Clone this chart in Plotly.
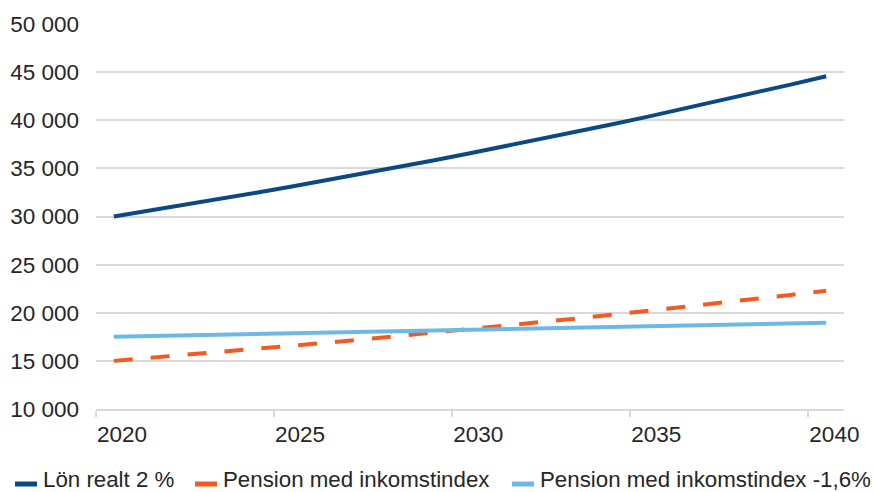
import plotly.graph_objects as go

years = list(range(2020, 2041))

lon_realt = [30000, 30600, 31212, 31836, 32473, 33122, 33785, 34461, 35150, 35853,
             36570, 37301, 38047, 38808, 39584, 40376, 41184, 42007, 42847, 43704, 44578]
pension_ink = [15000, 15300, 15606, 15918, 16236, 16561, 16892, 17230, 17575, 17926,
               18285, 18651, 19024, 19404, 19792, 20188, 20592, 21004, 21424, 21852, 22289]
pension_ink_m16 = [17500, 17570, 17640, 17711, 17782, 17853, 17924, 17996, 18068, 18140,
                   18213, 18286, 18359, 18432, 18506, 18580, 18654, 18729, 18804, 18879, 18954]

series_names = ["Lön realt 2 %", "Pension med inkomstindex", "Pension med inkomstindex -1,6%"]
series_colors = ["#0A4A80", "#F25A21", "#6DB9E6"]

x_tick_vals = [2019.5, 2024.5, 2029.5, 2034.5, 2039.5]
x_tick_text = ["2020", "2025", "2030", "2035", "2040"]
y_tick_vals = [10000, 15000, 20000, 25000, 30000, 35000, 40000, 45000, 50000]
y_tick_text = ["10 000", "15 000", "20 000", "25 000", "30 000", "35 000", "40 000", "45 000", "50 000"]

FONT = "Liberation Sans, Arial, sans-serif"
TEXT = "#262626"
GRID = "#D9D9D9"
FS = 22.5
LEG_FS = 22.3

W, H = 875, 492
ML, MR, MT, MB = 96, 31, 24, 83
PW, PH = W - ML - MR, H - MT - MB


def px_x(px):
    return (px - ML) / PW


def px_y(py):
    return (H - MB - py) / PH


fig = go.Figure()
fig.add_trace(go.Scatter(x=years, y=lon_realt, name=series_names[0], mode="lines",
                         line=dict(color=series_colors[0], width=4)))
fig.add_trace(go.Scatter(x=years, y=pension_ink, name=series_names[1], mode="lines",
                         line=dict(color=series_colors[1], width=4, dash="19px,18px")))
fig.add_trace(go.Scatter(x=years, y=pension_ink_m16, name=series_names[2], mode="lines",
                         line=dict(color=series_colors[2], width=4)))

# Legend row below the plot, drawn as line swatches plus labels
legend_swatch_x = [15, 195, 512]
legend_y = 484
shapes = []
annotations = []
for name, color, sx in zip(series_names, series_colors, legend_swatch_x):
    shapes.append(dict(type="line", xref="paper", yref="paper",
                       x0=px_x(sx), x1=px_x(sx + 22), y0=px_y(legend_y), y1=px_y(legend_y),
                       line=dict(color=color, width=5)))
    annotations.append(dict(text=name, xref="paper", yref="paper",
                            x=px_x(sx + 27), y=px_y(479), xanchor="left", yanchor="middle",
                            showarrow=False, borderpad=0,
                            font=dict(family=FONT, size=LEG_FS, color=TEXT)))

fig.update_layout(
    width=W, height=H,
    margin=dict(l=ML, r=MR, t=MT, b=MB, autoexpand=False),
    paper_bgcolor="white", plot_bgcolor="white",
    font=dict(family=FONT, size=FS, color=TEXT),
    showlegend=False,
    shapes=shapes,
    annotations=annotations,
    xaxis=dict(range=[2019.5, 2040.5], tickmode="array", tickvals=x_tick_vals,
               ticktext=x_tick_text, ticks="outside", ticklen=6, tickcolor=GRID,
               tickwidth=2, showline=True, linecolor=GRID, linewidth=2,
               showgrid=False, zeroline=False, ticklabelshift=26, ticklabelstandoff=-2,
               tickfont=dict(family=FONT, size=FS, color=TEXT)),
    yaxis=dict(range=[10000, 50000], tickmode="array", tickvals=y_tick_vals,
               ticktext=y_tick_text, showgrid=True, gridcolor=GRID, gridwidth=2,
               zeroline=False, showline=False, ticks="", ticklabelstandoff=16,
               tickfont=dict(family=FONT, size=FS, color=TEXT)),
)

fig.write_html("out.html")
